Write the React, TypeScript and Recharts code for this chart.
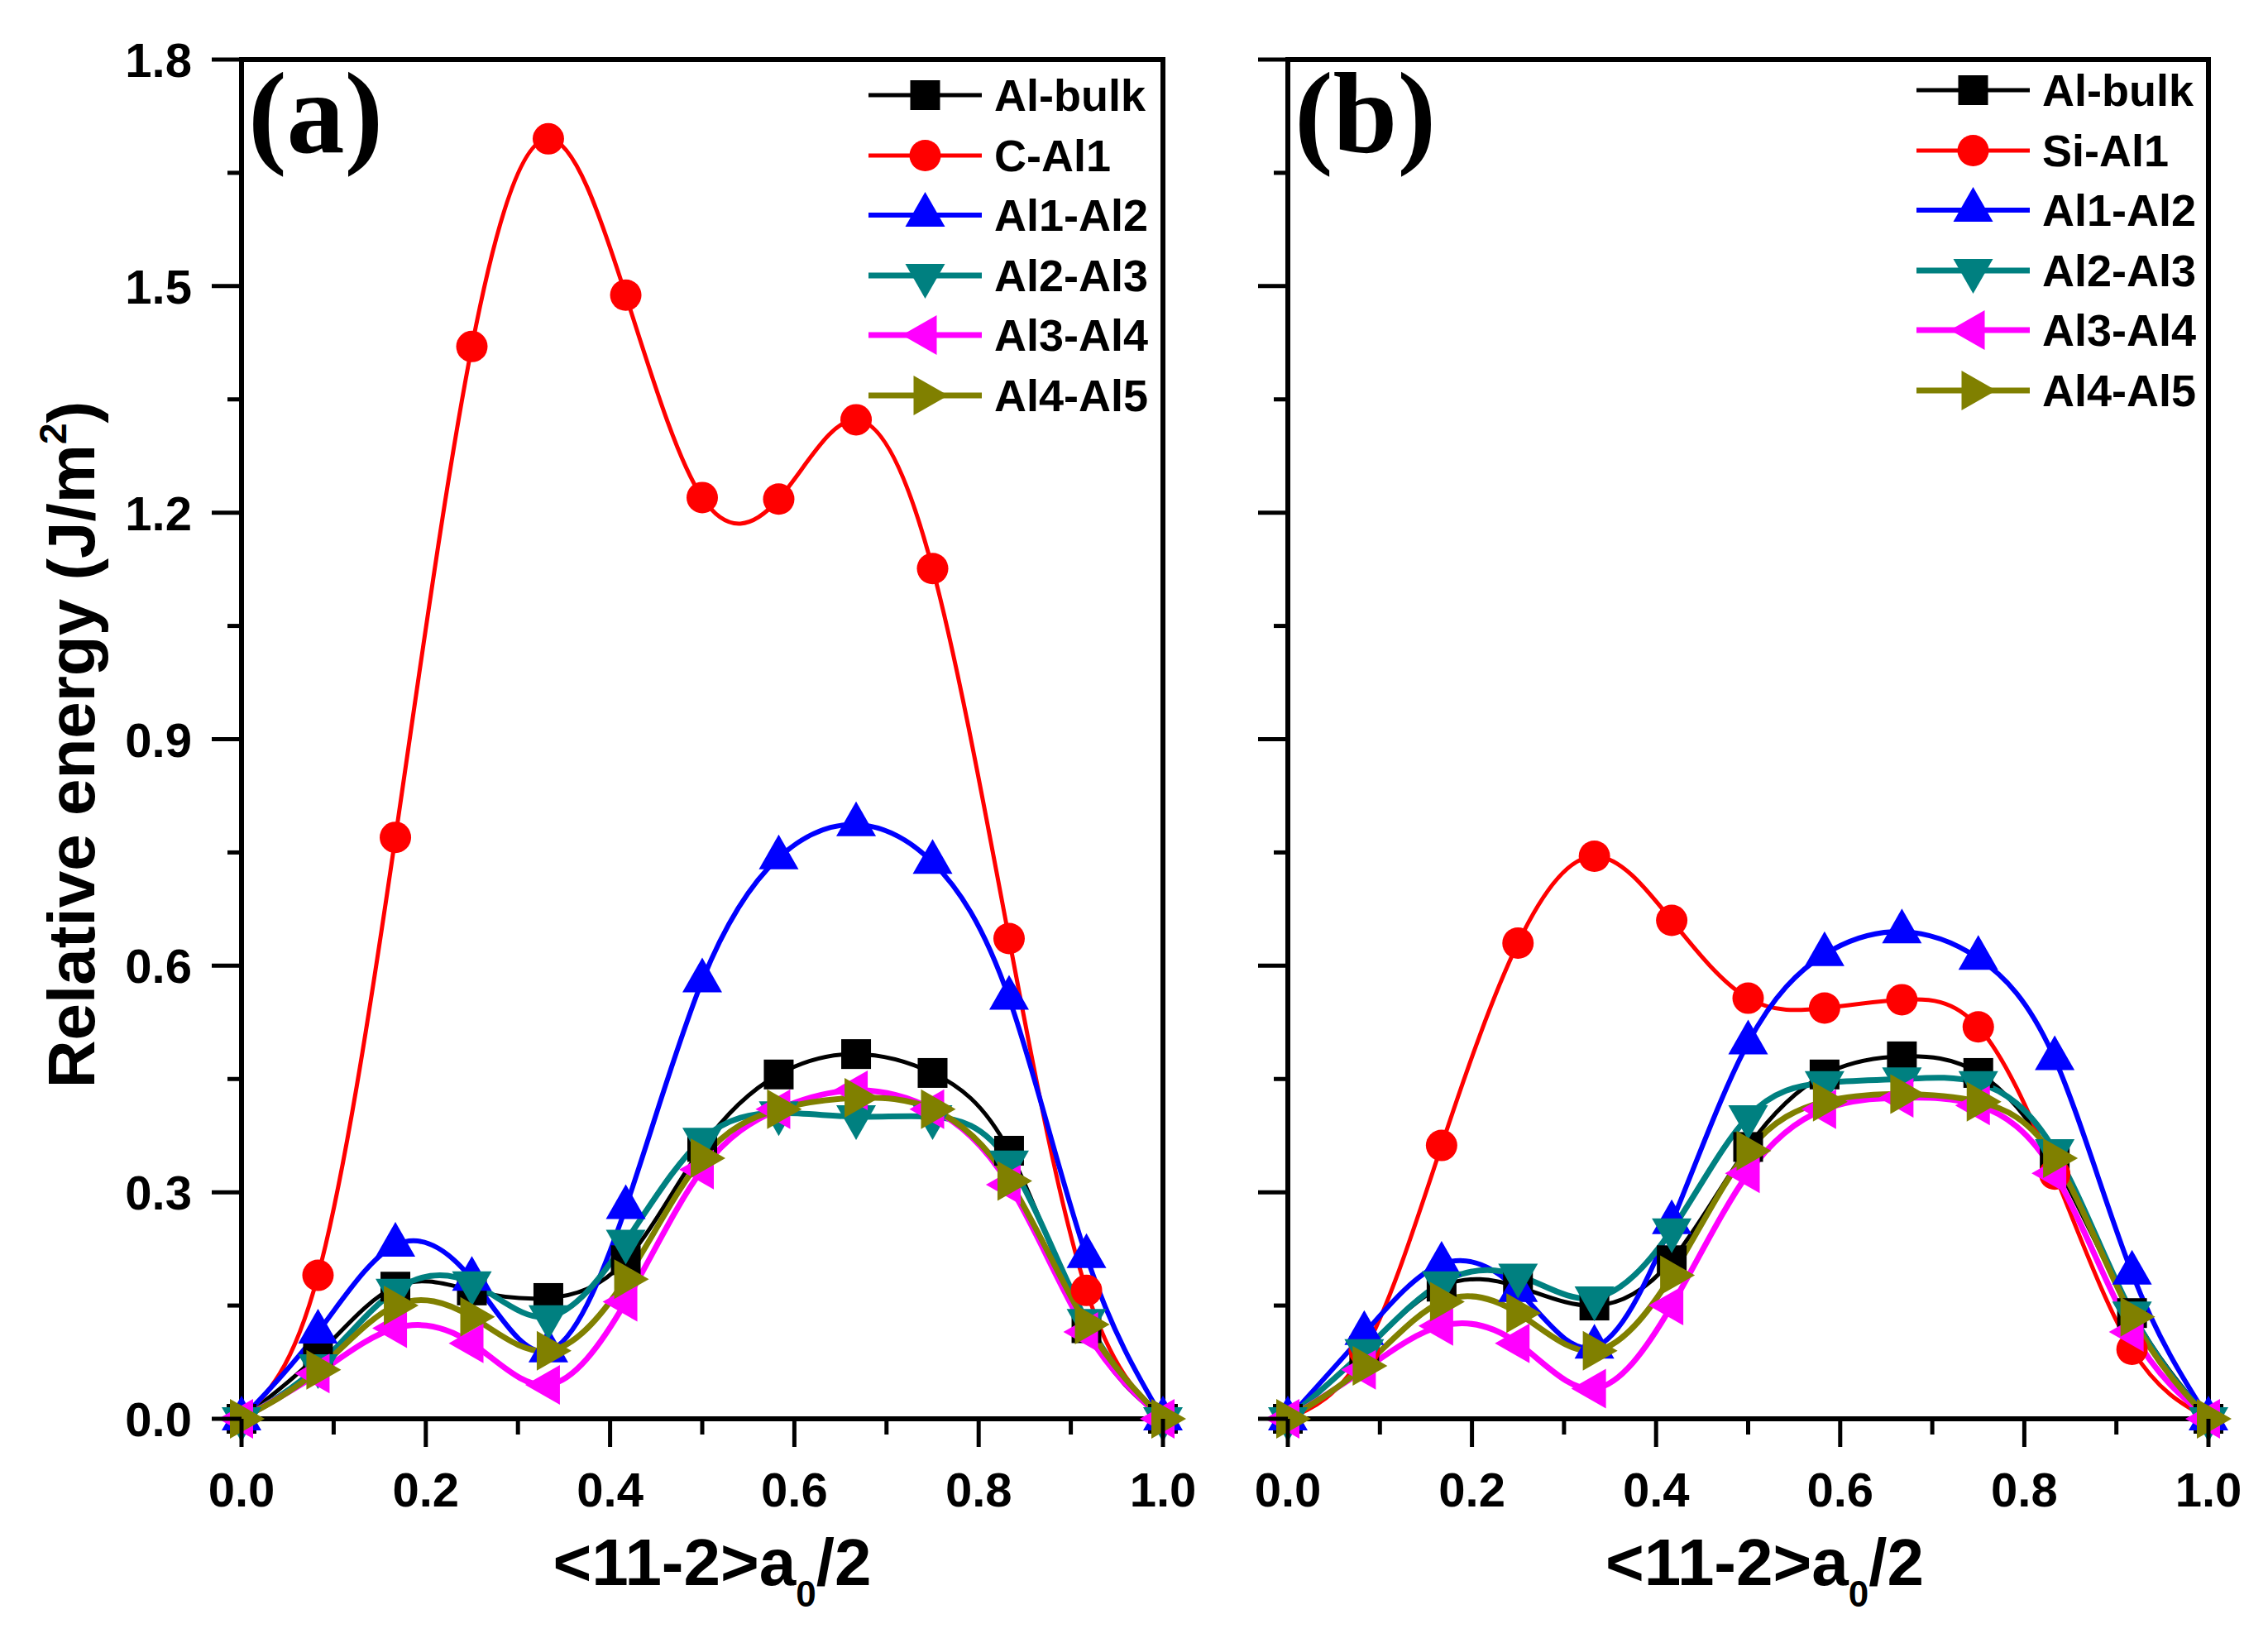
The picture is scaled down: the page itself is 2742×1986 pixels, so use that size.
import { LineChart, Line, XAxis, YAxis, ReferenceArea, Legend, Customized } from 'recharts'

// slip position along <11-2>, in units of a0/2
const SHIFT = [0, 0.083, 0.167, 0.25, 0.333, 0.417, 0.5, 0.583, 0.667, 0.75, 0.833, 0.917, 1]

// (a) C doped
const bulkA = [0, 0.085, 0.175, 0.17, 0.16, 0.21, 0.36, 0.456, 0.483, 0.458, 0.355, 0.12, 0]
const cAl1 = [0, 0.19, 0.77, 1.42, 1.695, 1.488, 1.22, 1.218, 1.323, 1.126, 0.636, 0.17, 0]
const al12A = [0, 0.115, 0.23, 0.185, 0.09, 0.28, 0.58, 0.743, 0.787, 0.737, 0.557, 0.215, 0]
const al23A = [0, 0.07, 0.17, 0.18, 0.135, 0.235, 0.37, 0.405, 0.4, 0.4, 0.34, 0.13, 0]
const al34A = [0, 0.06, 0.12, 0.1, 0.045, 0.155, 0.33, 0.41, 0.435, 0.41, 0.31, 0.115, 0]
const al45A = [0, 0.065, 0.15, 0.135, 0.09, 0.185, 0.345, 0.41, 0.425, 0.41, 0.315, 0.125, 0]

// (b) Si doped
const bulkB = [0, 0.09, 0.175, 0.175, 0.15, 0.21, 0.36, 0.456, 0.48, 0.458, 0.34, 0.14, 0]
const siAl1 = [0, 0.09, 0.362, 0.63, 0.745, 0.66, 0.557, 0.544, 0.555, 0.519, 0.324, 0.092, 0]
const al12B = [0, 0.113, 0.205, 0.17, 0.095, 0.26, 0.498, 0.615, 0.645, 0.61, 0.477, 0.193, 0]
const al23B = [0, 0.09, 0.18, 0.19, 0.16, 0.25, 0.4, 0.445, 0.45, 0.445, 0.355, 0.14, 0]
const al34B = [0, 0.065, 0.123, 0.1, 0.04, 0.15, 0.325, 0.41, 0.425, 0.415, 0.325, 0.115, 0]
const al45B = [0, 0.07, 0.155, 0.14, 0.09, 0.19, 0.355, 0.42, 0.43, 0.42, 0.345, 0.135, 0]

const X_TICKS = [0, 0.1, 0.2, 0.3, 0.4, 0.5, 0.6, 0.7, 0.8, 0.9, 1]
const Y_TICKS = [0, 0.15, 0.3, 0.45, 0.6, 0.75, 0.9, 1.05, 1.2, 1.35, 1.5, 1.65, 1.8]

type Shape = 'square' | 'circle' | 'up' | 'down' | 'left' | 'right'
type Series = { key: string; name: string; color: string; shape: Shape; width: number; values: number[] }

const seriesA: Series[] = [
  { key: 'bulk', name: 'Al-bulk', color: '#000000', shape: 'square', width: 5, values: bulkA },
  { key: 'imp', name: 'C-Al1', color: '#ff0000', shape: 'circle', width: 5, values: cAl1 },
  { key: 'al12', name: 'Al1-Al2', color: '#0000ff', shape: 'up', width: 6, values: al12A },
  { key: 'al23', name: 'Al2-Al3', color: '#008080', shape: 'down', width: 7, values: al23A },
  { key: 'al34', name: 'Al3-Al4', color: '#ff00ff', shape: 'left', width: 7, values: al34A },
  { key: 'al45', name: 'Al4-Al5', color: '#808000', shape: 'right', width: 7, values: al45A },
]

const seriesB: Series[] = [
  { key: 'bulk', name: 'Al-bulk', color: '#000000', shape: 'square', width: 5, values: bulkB },
  { key: 'imp', name: 'Si-Al1', color: '#ff0000', shape: 'circle', width: 5, values: siAl1 },
  { key: 'al12', name: 'Al1-Al2', color: '#0000ff', shape: 'up', width: 6, values: al12B },
  { key: 'al23', name: 'Al2-Al3', color: '#008080', shape: 'down', width: 7, values: al23B },
  { key: 'al34', name: 'Al3-Al4', color: '#ff00ff', shape: 'left', width: 7, values: al34B },
  { key: 'al45', name: 'Al4-Al5', color: '#808000', shape: 'right', width: 7, values: al45B },
]

const SANS = '"Liberation Sans", Arial, Helvetica, sans-serif'
const SERIF = '"Liberation Serif", "Times New Roman", serif'

const HEIGHT = 1986
const PLOT_TOP = 72
const PLOT_BOTTOM = 1715
const X_AXIS_H = HEIGHT - PLOT_BOTTOM

function buildRows(series: Series[]) {
  return SHIFT.map((x, i) => {
    const row: Record<string, number> = { x }
    series.forEach((s) => (row[s.key] = s.values[i]))
    return row
  })
}

function Marker({ cx, cy, shape, color }: { cx: number; cy: number; shape: Shape; color: string }) {
  const h = 14
  const a = 28
  const w = 24
  switch (shape) {
    case 'square':
      return <rect x={cx - 18} y={cy - 18} width={36} height={36} fill={color} />
    case 'circle':
      return <circle cx={cx} cy={cy} r={19} fill={color} />
    case 'up':
      return <polygon points={`${cx},${cy - a} ${cx + w},${cy + h} ${cx - w},${cy + h}`} fill={color} />
    case 'down':
      return <polygon points={`${cx},${cy + a} ${cx + w},${cy - h} ${cx - w},${cy - h}`} fill={color} />
    case 'left':
      return <polygon points={`${cx - a},${cy} ${cx + h},${cy - w} ${cx + h},${cy + w}`} fill={color} />
    default:
      return <polygon points={`${cx + a},${cy} ${cx - h},${cy - w} ${cx - h},${cy + w}`} fill={color} />
  }
}

const isMajor = (v: number, step: number) => Math.round(v / step) % 2 === 0

function makeXTick() {
  return (props: any) => {
    const { x, payload } = props
    const major = isMajor(payload.value, 0.1)
    return (
      <g>
        <line x1={x} x2={x} y1={PLOT_BOTTOM} y2={PLOT_BOTTOM + (major ? 34 : 19)} stroke="#000" strokeWidth={5} />
        {major && (
          <text x={x} y={1821} textAnchor="middle" fontFamily={SANS} fontWeight="bold" fontSize={58} fill="#000">
            {payload.value.toFixed(1)}
          </text>
        )}
      </g>
    )
  }
}

function makeYTick(left: number, showLabel: boolean) {
  return (props: any) => {
    const { y, payload } = props
    const major = isMajor(payload.value, 0.15)
    return (
      <g>
        <line x1={left - (major ? 36 : 17)} x2={left} y1={y} y2={y} stroke="#000" strokeWidth={5} />
        {major && showLabel && (
          <text x={left - 60} y={y + 21} textAnchor="end" fontFamily={SANS} fontWeight="bold" fontSize={58} fill="#000">
            {payload.value.toFixed(1)}
          </text>
        )}
      </g>
    )
  }
}

function LegendBlock({ items }: { items: Series[] }) {
  return (
    <div style={{ display: 'flex', flexDirection: 'column' }}>
      {items.map((s) => (
        <div key={s.key} style={{ display: 'flex', alignItems: 'center', height: 72.5 }}>
          <svg width={137} height={56} style={{ overflow: 'visible' }}>
            <line x1={0} x2={137} y1={28} y2={28} stroke={s.color} strokeWidth={s.width} />
            <Marker cx={68.5} cy={28} shape={s.shape} color={s.color} />
          </svg>
          <span
            style={{
              marginLeft: 15,
              fontFamily: SANS,
              fontWeight: 'bold',
              fontSize: 54,
              lineHeight: 1,
              color: '#000',
              whiteSpace: 'nowrap',
            }}
          >
            {s.name}
          </span>
        </div>
      ))}
    </div>
  )
}

type PanelProps = {
  series: Series[]
  letter: string
  width: number
  axisWidth: number
  marginRight: number
  legendLeft: number
  legendTop: number
  titleShift: number
  showYLabels: boolean
}

function Panel({ series, letter, width, axisWidth, marginRight, legendLeft, legendTop, titleShift, showYLabels }: PanelProps) {
  const rows = buildRows(series)
  const plotLeft = axisWidth
  const plotRight = width - marginRight
  const midX = (plotLeft + plotRight) / 2 + titleShift

  return (
    <LineChart
      width={width}
      height={HEIGHT}
      data={rows}
      margin={{ top: PLOT_TOP, right: marginRight, bottom: 0, left: 0 }}
    >
      <XAxis
        type="number"
        dataKey="x"
        domain={[0, 1]}
        ticks={X_TICKS}
        interval={0}
        height={X_AXIS_H}
        axisLine={false}
        tickLine={false}
        tick={makeXTick()}
      />
      <YAxis
        type="number"
        domain={[0, 1.8]}
        ticks={Y_TICKS}
        interval={0}
        width={axisWidth}
        axisLine={false}
        tickLine={false}
        tick={makeYTick(plotLeft, showYLabels)}
      />
      <ReferenceArea x1={0} x2={1} y1={0} y2={1.8} fill="none" stroke="#000" strokeWidth={6} />
      {series.map((s) => (
        <Line
          key={s.key}
          type="natural"
          dataKey={s.key}
          name={s.name}
          stroke={s.color}
          strokeWidth={s.width}
          isAnimationActive={false}
          activeDot={false}
          dot={(p: any) => (
            <Marker key={`${s.key}-${p.index}`} cx={p.cx} cy={p.cy} shape={s.shape} color={s.color} />
          )}
        />
      ))}
      <Legend
        layout="vertical"
        align="center"
        verticalAlign="middle"
        content={() => <LegendBlock items={series} />}
        wrapperStyle={{ left: legendLeft, top: legendTop, width: 380, height: 440 }}
      />
      <Customized
        component={() => (
          <g>
            <text x={plotLeft + 8} y={184} fontFamily={SERIF} fontWeight="bold" fontSize={140} fill="#000">
              {letter}
            </text>
            <text x={midX} y={1916} textAnchor="middle" fontFamily={SANS} fontWeight="bold" fontSize={80} fill="#000">
              {'<11-2>a'}
              <tspan fontSize={44} dy={26}>0</tspan>
              <tspan fontSize={80} dy={-26}>/2</tspan>
            </text>
            {showYLabels && (
              <text
                x={114}
                y={900}
                transform="rotate(-90, 114, 900)"
                textAnchor="middle"
                fontFamily={SANS}
                fontWeight="bold"
                fontSize={80}
                fill="#000"
              >
                Relative energy (J/m
                <tspan fontSize={46} dy={-34}>2</tspan>
                <tspan dy={34}>)</tspan>
              </text>
            )}
          </g>
        )}
      />
    </LineChart>
  )
}

export default function App() {
  return (
    <div style={{ position: 'absolute', left: 0, top: 0, width: 2742, height: HEIGHT, background: '#fff' }}>
      <div style={{ position: 'absolute', left: 0, top: 0 }}>
        <Panel
          series={seriesA}
          letter="(a)"
          width={1450}
          axisWidth={292}
          marginRight={44}
          legendLeft={1050}
          legendTop={79}
          titleShift={12}
          showYLabels
        />
      </div>
      <div style={{ position: 'absolute', left: 1450, top: 0 }}>
        <Panel
          series={seriesB}
          letter="(b)"
          width={1292}
          axisWidth={107}
          marginRight={72}
          legendLeft={867}
          legendTop={73}
          titleShift={20}
          showYLabels={false}
        />
      </div>
    </div>
  )
}
